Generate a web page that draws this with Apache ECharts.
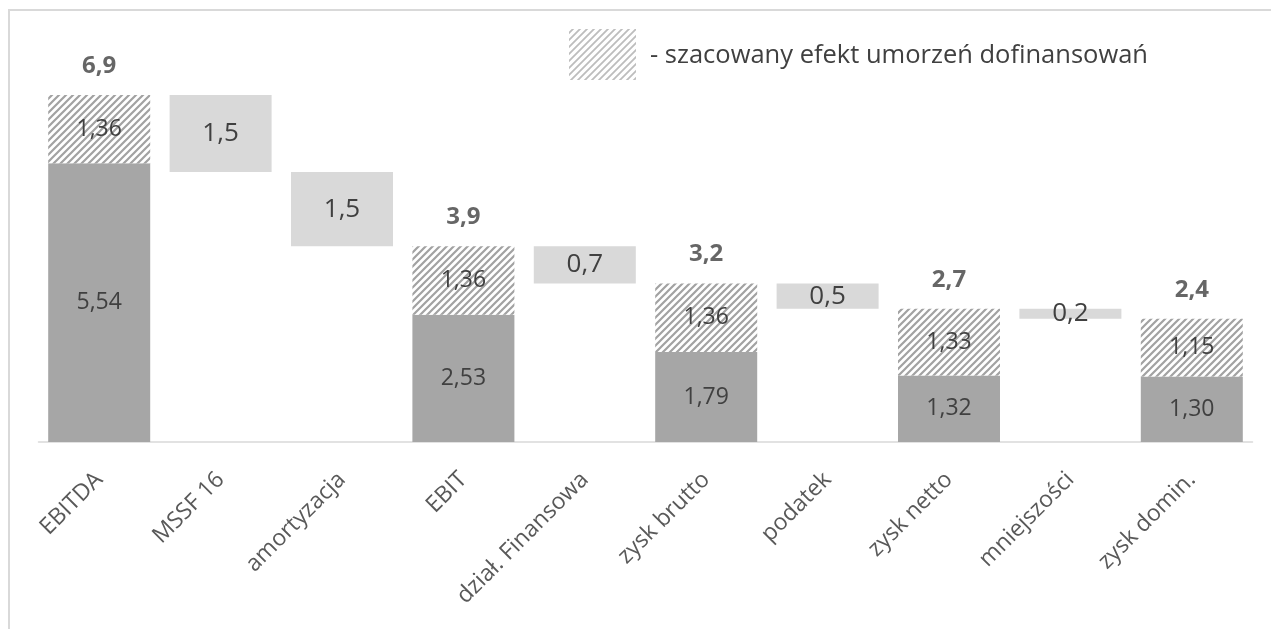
<!DOCTYPE html>
<html><head><meta charset="utf-8">
<script src="https://cdn.jsdelivr.net/npm/echarts@6/dist/echarts.min.js"></script>
<style>html,body{margin:0;padding:0;background:#fff}#c{width:1271px;height:629px}</style>
</head><body><div id="c"></div>
<script>
const categories = ['EBITDA','MSSF 16','amortyzacja','EBIT','dział. Finansowa','zysk brutto','podatek','zysk netto','mniejszości','zysk domin.'];
const solidValues = [5.54, null, null, 2.53, null, 1.79, null, 1.32, null, 1.30];
const hatchedValues = [1.36, null, null, 1.36, null, 1.36, null, 1.33, null, 1.15];
const totalLabels = ['6,9', null, null, '3,9', null, '3,2', null, '2,7', null, '2,4'];
const floatLow = [null, 5.37, 3.89, null, 3.15, null, 2.65, null, 2.45, null];
const floatHigh = [null, 6.90, 5.37, null, 3.89, null, 3.15, null, 2.65, null];
const floatLabels = [null, '1,5', '1,5', null, '0,7', null, '0,5', null, '0,2', null];
const legendText = '- szacowany efekt umorzeń dofinansowań';

const FONT = '"Open Sans", sans-serif';
const TXT = '#404040';

function hatch(color, lw) {
  const s = 7, cv = document.createElement('canvas');
  cv.width = s; cv.height = s;
  const g = cv.getContext('2d');
  g.fillStyle = '#ffffff'; g.fillRect(0,0,s,s);
  g.strokeStyle = color; g.lineWidth = lw;
  g.beginPath();
  g.moveTo(-1, s+1); g.lineTo(s+1, -1);
  g.moveTo(-1, 1); g.lineTo(1, -1);
  g.moveTo(s-1, s+1); g.lineTo(s+1, s-1);
  g.stroke();
  return cv;
}
const hatchFill = {image: hatch('#a2a2a2', 2.2), repeat: 'repeat'};
const hatchLegend = {image: hatch('#bdbdbd', 1.8), repeat: 'repeat'};
const fmt2 = v => v.toFixed(2).replace('.', ',');

const totals = solidValues.map((v,i) => v == null ? null : +(v + hatchedValues[i]).toFixed(2));
const floatSize = floatLow.map((v,i) => v == null ? null : +(floatHigh[i] - v).toFixed(2));

const chart = echarts.init(document.getElementById('c'));
chart.setOption({
  animation: false,
  grid: {left: 38.5, right: 18.5, top: 39.6, bottom: 187},
  xAxis: {
    type: 'category', data: categories,
    axisLine: {lineStyle: {color: '#d9d9d9', width: 1.5}},
    axisTick: {show: false},
    axisLabel: {rotate: 45, fontFamily: FONT, fontSize: 23, color: '#595959', margin: 34, interval: 0}
  },
  yAxis: {type: 'value', min: 0, max: 8, show: false, splitLine: {show: false}},
  series: [
    {type: 'bar', stack: 'a', barWidth: 102, data: solidValues,
     itemStyle: {color: '#a6a6a6'},
     label: {show: true, position: 'inside', fontFamily: FONT, fontSize: 23, color: TXT,
             formatter: p => fmt2(p.value)}},
    {type: 'bar', stack: 'a', barWidth: 102, data: hatchedValues,
     itemStyle: {color: hatchFill},
     label: {show: true, position: 'inside', fontFamily: FONT, fontSize: 23, color: TXT,
             formatter: p => fmt2(p.value)}},
    {type: 'bar', stack: 'b', barWidth: 102, barGap: '-100%', data: floatLow,
     itemStyle: {color: 'transparent'}, silent: true},
    {type: 'bar', stack: 'b', barWidth: 102, data: floatSize,
     itemStyle: {color: '#d9d9d9'},
     label: {show: true, position: 'inside', fontFamily: FONT, fontSize: 26, color: TXT,
             formatter: p => floatLabels[p.dataIndex]}},
    {type: 'scatter', symbolSize: 0, data: totals,
     label: {show: true, position: 'top', distance: 17, fontFamily: FONT, fontSize: 24, fontWeight: 'bold', color: TXT,
             formatter: p => totalLabels[p.dataIndex]}}
  ],
  graphic: [
    {type: 'rect', shape: {x: 9, y: 10, width: 1300, height: 700},
     style: {fill: 'none', stroke: '#d9d9d9', lineWidth: 2}, silent: true},
    {type: 'rect', shape: {x: 569, y: 29, width: 67, height: 51},
     style: {fill: hatchLegend}, silent: true},
    {type: 'text', x: 650, y: 56,
     style: {text: legendText, fontFamily: FONT, fontSize: 25.5, fill: TXT, verticalAlign: 'middle'}}
  ]
});
</script></body></html>
